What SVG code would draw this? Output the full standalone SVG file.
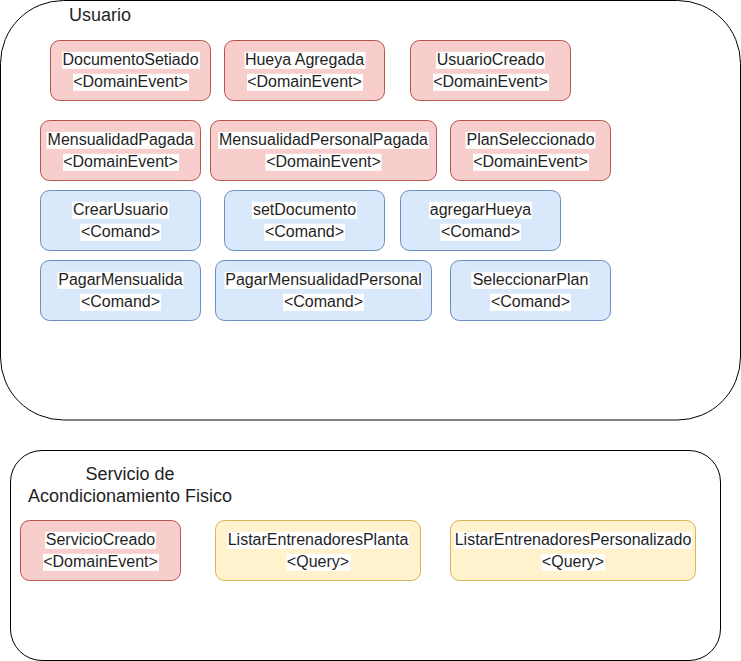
<svg xmlns="http://www.w3.org/2000/svg" width="741" height="661" viewBox="0 0 741 661">
<style>
text{font-family:"Liberation Sans",Arial,sans-serif;fill:#1f1f1f;text-anchor:middle}
.t{font-size:16px}
.h{font-size:18px}
.c{fill:#fff;stroke:#000;stroke-width:1}
.r{fill:#f8cecc;stroke:#b85450;stroke-width:1}
.b{fill:#dae8fc;stroke:#6c8ebf;stroke-width:1}
.y{fill:#fff2cc;stroke:#d6b656;stroke-width:1}
.bg{fill:#fff}
</style>
<rect width="741" height="661" fill="#fff"/>
<g id="usuario">
<rect class="c" x="0.5" y="0.5" width="740" height="419.5" rx="63" ry="63"/>
<text class="h" x="100" y="21">Usuario</text>
</g>
<g id="servicio">
<rect class="c" x="10.5" y="450.5" width="710" height="210" rx="31.5" ry="31.5"/>
<text class="h" x="130" y="480">Servicio de</text>
<text class="h" x="130" y="502">Acondicionamiento Fisico</text>
</g>
<g id="connectors"></g>

<g id="n-documentoSetiado">
<rect class="r" x="50.5" y="40.5" width="160" height="60" rx="9"/>
<rect class="bg" x="62" y="51.8" width="138" height="17"/><rect class="bg" x="73" y="73.8" width="116" height="17"/>
<text class="t" x="130.5" y="65.3">DocumentoSetiado</text><text class="t" x="130.5" y="87.3">&lt;DomainEvent&gt;</text>
</g>
<g id="n-hueyaAgregada">
<rect class="r" x="224.5" y="40.5" width="160" height="60" rx="9"/>
<rect class="bg" x="244.5" y="51.8" width="121" height="17"/><rect class="bg" x="247" y="73.8" width="116" height="17"/>
<text class="t" x="304.5" y="65.3">Hueya Agregada</text><text class="t" x="304.5" y="87.3">&lt;DomainEvent&gt;</text>
</g>
<g id="n-usuarioCreado">
<rect class="r" x="410.5" y="40.5" width="160" height="60" rx="9"/>
<rect class="bg" x="436" y="51.8" width="109" height="17"/><rect class="bg" x="433" y="73.8" width="116" height="17"/>
<text class="t" x="490.5" y="65.3">UsuarioCreado</text><text class="t" x="490.5" y="87.3">&lt;DomainEvent&gt;</text>
</g>

<g id="n-mensualidadPagada">
<rect class="r" x="40.5" y="120.5" width="160" height="60" rx="9"/>
<rect class="bg" x="46.5" y="131.8" width="148" height="17"/><rect class="bg" x="63" y="153.8" width="116" height="17"/>
<text class="t" x="120.5" y="145.3">MensualidadPagada</text><text class="t" x="120.5" y="167.3">&lt;DomainEvent&gt;</text>
</g>
<g id="n-mensualidadPersonalPagada">
<rect class="r" x="210.5" y="120.5" width="226" height="60" rx="9"/>
<rect class="bg" x="218" y="131.8" width="211" height="17"/><rect class="bg" x="265.5" y="153.8" width="116" height="17"/>
<text class="t" x="323.5" y="145.3">MensualidadPersonalPagada</text><text class="t" x="323.5" y="167.3">&lt;DomainEvent&gt;</text>
</g>
<g id="n-planSeleccionado">
<rect class="r" x="450.5" y="120.5" width="160" height="60" rx="9"/>
<rect class="bg" x="465.5" y="131.8" width="130" height="17"/><rect class="bg" x="473" y="153.8" width="116" height="17"/>
<text class="t" x="530.5" y="145.3">PlanSeleccionado</text><text class="t" x="530.5" y="167.3">&lt;DomainEvent&gt;</text>
</g>

<g id="n-crearUsuario">
<rect class="b" x="40.5" y="190.5" width="160" height="60" rx="9"/>
<rect class="bg" x="72" y="201.8" width="97" height="17"/><rect class="bg" x="80" y="223.8" width="81" height="17"/>
<text class="t" x="120.5" y="215.3">CrearUsuario</text><text class="t" x="120.5" y="237.3">&lt;Comand&gt;</text>
</g>
<g id="n-setDocumento">
<rect class="b" x="224.5" y="190.5" width="160" height="60" rx="9"/>
<rect class="bg" x="252" y="201.8" width="105" height="17"/><rect class="bg" x="264" y="223.8" width="81" height="17"/>
<text class="t" x="304.5" y="215.3">setDocumento</text><text class="t" x="304.5" y="237.3">&lt;Comand&gt;</text>
</g>
<g id="n-agregarHueya">
<rect class="b" x="400.5" y="190.5" width="160" height="60" rx="9"/>
<rect class="bg" x="429" y="201.8" width="103" height="17"/><rect class="bg" x="440" y="223.8" width="81" height="17"/>
<text class="t" x="480.5" y="215.3">agregarHueya</text><text class="t" x="480.5" y="237.3">&lt;Comand&gt;</text>
</g>

<g id="n-pagarMensualida">
<rect class="b" x="40.5" y="260.5" width="160" height="60" rx="9"/>
<rect class="bg" x="57.5" y="271.8" width="126" height="17"/><rect class="bg" x="80" y="293.8" width="81" height="17"/>
<text class="t" x="120.5" y="285.3">PagarMensualida</text><text class="t" x="120.5" y="307.3">&lt;Comand&gt;</text>
</g>
<g id="n-pagarMensualidadPersonal">
<rect class="b" x="215.5" y="260.5" width="216" height="60" rx="9"/>
<rect class="bg" x="224.5" y="271.8" width="198" height="17"/><rect class="bg" x="283" y="293.8" width="81" height="17"/>
<text class="t" x="323.5" y="285.3">PagarMensualidadPersonal</text><text class="t" x="323.5" y="307.3">&lt;Comand&gt;</text>
</g>
<g id="n-seleccionarPlan">
<rect class="b" x="450.5" y="260.5" width="160" height="60" rx="9"/>
<rect class="bg" x="471.5" y="271.8" width="118" height="17"/><rect class="bg" x="490" y="293.8" width="81" height="17"/>
<text class="t" x="530.5" y="285.3">SeleccionarPlan</text><text class="t" x="530.5" y="307.3">&lt;Comand&gt;</text>
</g>

<g id="n-servicioCreado">
<rect class="r" x="20.5" y="520.5" width="160" height="60" rx="9"/>
<rect class="bg" x="45" y="531.8" width="111" height="17"/><rect class="bg" x="43" y="553.8" width="116" height="17"/>
<text class="t" x="100.5" y="545.3">ServicioCreado</text><text class="t" x="100.5" y="567.3">&lt;DomainEvent&gt;</text>
</g>
<g id="n-listarEntrenadoresPlanta">
<rect class="y" x="215.5" y="520.5" width="205" height="60" rx="9"/>
<rect class="bg" x="227" y="531.8" width="182" height="17"/><rect class="bg" x="286.5" y="553.8" width="64" height="17"/>
<text class="t" x="318" y="545.3">ListarEntrenadoresPlanta</text><text class="t" x="318" y="567.3">&lt;Query&gt;</text>
</g>
<g id="n-listarEntrenadoresPersonalizado">
<rect class="y" x="450.5" y="520.5" width="245" height="60" rx="9"/>
<rect class="bg" x="454" y="531.8" width="238" height="17"/><rect class="bg" x="541" y="553.8" width="64" height="17"/>
<text class="t" x="573" y="545.3">ListarEntrenadoresPersonalizado</text><text class="t" x="573" y="567.3">&lt;Query&gt;</text>
</g>
</svg>
